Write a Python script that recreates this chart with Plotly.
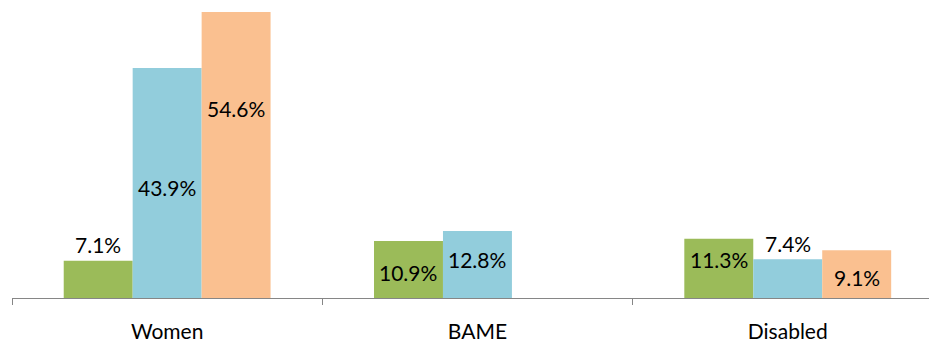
import plotly.graph_objects as go

categories = ["Women", "BAME", "Disabled"]
series_green = [7.1, 10.9, 11.3]
series_blue = [43.9, 12.8, 7.4]
series_orange = [54.6, None, 9.1]

# vertical placement (in % units) of each value label
label_pos_green = [10.3, 4.8, 7.3]
label_pos_blue = [21.0, 7.4, 10.5]
label_pos_orange = [36.1, None, 4.0]

colors = ["#9BBB59", "#92CDDC", "#FAC090"]
names = ["Series 1", "Series 2", "Series 3"]
FONT = "Lato"
BARGAP = 1 / 3

fig = go.Figure()
series = [series_green, series_blue, series_orange]
label_pos = [label_pos_green, label_pos_blue, label_pos_orange]
for vals, col, nm in zip(series, colors, names):
    fig.add_trace(go.Bar(x=categories, y=vals, name=nm, marker_color=col,
                         marker_line_width=0, hoverinfo="x+y"))

bw = (1 - BARGAP) / len(series)
annotations = []
for j, (vals, pos) in enumerate(zip(series, label_pos)):
    off = (j - (len(series) - 1) / 2) * bw
    for i, (v, p) in enumerate(zip(vals, pos)):
        if v is None:
            continue
        annotations.append(dict(x=i + off, y=p, xref="x", yref="y",
                                text=f"{v:.1f}%", showarrow=False,
                                xanchor="center", yanchor="middle",
                                font=dict(family=FONT, size=21, color="#000000")))

# the page adds an 8px body margin, so the figure is sized to fit the window
fig.update_layout(
    width=929, height=334,
    margin=dict(l=4, r=0, t=0, b=44, pad=0, autoexpand=False),
    paper_bgcolor="white", plot_bgcolor="white",
    barmode="group", bargap=BARGAP, bargroupgap=0,
    showlegend=False,
    annotations=annotations,
    font=dict(family=FONT, size=21, color="#000000"),
)
fig.update_xaxes(type="category", range=[-0.5, 2.481], tickson="boundaries",
                 ticks="outside", ticklen=6, tickwidth=1.3, tickcolor="#868686",
                 showline=True, linecolor="#868686", linewidth=1.3,
                 showgrid=False, zeroline=False, automargin=False,
                 ticklabelstandoff=15,
                 tickfont=dict(family=FONT, size=21, color="#000000"))
fig.update_yaxes(visible=False, range=[0, 55.36], showgrid=False, zeroline=False,
                 automargin=False)

fig.write_html("out.html")
